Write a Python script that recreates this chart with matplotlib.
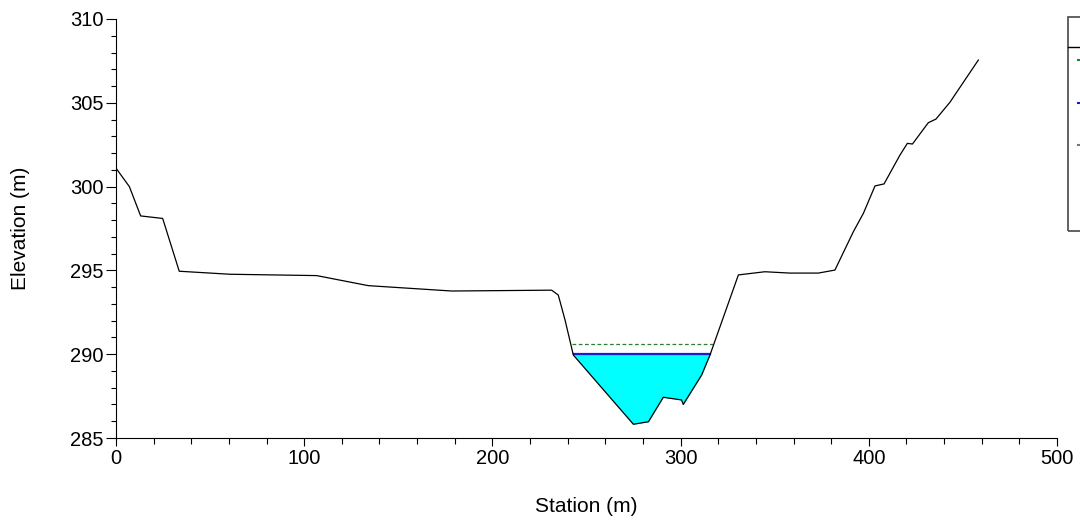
import matplotlib
matplotlib.use('Agg')
import matplotlib.pyplot as plt
from matplotlib.lines import Line2D
from matplotlib.patches import Rectangle
from matplotlib.ticker import MultipleLocator

plt.rcParams['font.family'] = ['Liberation Sans', 'DejaVu Sans']

# ground profile (station, elevation)
station = [0, 7.1, 13.1, 24.8, 33.6, 60.6, 106.6, 134.1, 178.4, 231.5, 235.0,
           238.6, 243.0, 274.9, 282.9, 290.8, 300.5, 301.4, 311.2, 315.6,
           330.7, 344.8, 358.1, 373.2, 382.0, 391.8, 397.1, 403.3, 408.1,
           416.6, 420.5, 423.2, 431.6, 435.7, 443.1, 458.2]
elevation = [301.1, 300.0, 298.25, 298.1, 294.95, 294.77, 294.69, 294.09, 293.77,
             293.82, 293.53, 292.04, 289.95, 285.82, 285.97, 287.43, 287.27,
             287.0, 288.76, 289.95, 294.73, 294.92, 294.84, 294.84, 295.02,
             297.31, 298.4, 300.04, 300.16, 301.89, 302.58, 302.54, 303.81,
             304.03, 305.03, 307.55]

ws_elev = 290.02
eg_elev = 290.6
ws_left, ws_right = 243.2, 315.4
eg_left, eg_right = 242.4, 317.4


def main():
    fig = plt.figure(figsize=(10.8, 5.23), dpi=100)
    ax = fig.add_axes([116 / 1080, 1 - 438 / 523, 941 / 1080, 419 / 523])

    # water fill below water surface
    ax.fill_between(station, elevation, ws_elev,
                    where=[ws_left - 1 <= s <= ws_right + 1 for s in station],
                    interpolate=True, color='#00ffff', linewidth=0, zorder=1)
    ax.plot([eg_left, eg_right], [eg_elev, eg_elev], color='#2e7d32',
            linestyle=(0, (3, 2)), linewidth=0.9, zorder=2)
    ax.plot([ws_left, ws_right], [ws_elev, ws_elev], color='#1a1adb',
            linewidth=1.6, zorder=3)
    ax.plot(station, elevation, color='black', linewidth=0.9, zorder=4)

    ax.set_xlim(0, 500)
    ax.set_ylim(285, 310)
    ax.xaxis.set_major_locator(MultipleLocator(100))
    ax.xaxis.set_minor_locator(MultipleLocator(20))
    ax.yaxis.set_major_locator(MultipleLocator(5))
    ax.yaxis.set_minor_locator(MultipleLocator(1))
    ax.spines['top'].set_visible(False)
    ax.spines['right'].set_visible(False)
    for sp in ('left', 'bottom'):
        ax.spines[sp].set_linewidth(0.8)
    ax.tick_params(axis='both', which='both', direction='out', width=0.8,
                   labelsize=14.5, colors='black', pad=2)
    ax.tick_params(axis='y', which='major', length=7)
    ax.tick_params(axis='y', which='minor', length=3.6)
    ax.tick_params(axis='x', which='major', length=6)
    ax.tick_params(axis='x', which='minor', length=4.3)
    ax.set_xlabel('Station (m)', fontsize=15, va='center')
    ax.set_ylabel('Elevation (m)', fontsize=15, va='center')
    ax.xaxis.set_label_coords(0.5, (438 - 507) / 419)
    ax.yaxis.set_label_coords((21 - 116) / 941, 0.5)

    # legend box, mostly cut off at the right edge
    fig.patches.append(Rectangle((1068 / 1080, 1 - 231 / 523), 0.1, 214 / 523,
                                 transform=fig.transFigure, fill=False,
                                 edgecolor='#555555', linewidth=1.3))
    fig.lines.append(Line2D([1068 / 1080, 1], [1 - 47 / 523] * 2,
                            transform=fig.transFigure, color='black', linewidth=1))
    for yy, c in [(60, '#2e7d32'), (103, '#1a1adb'), (145, '#777777')]:
        fig.lines.append(Line2D([1078 / 1080, 1.01], [1 - yy / 523] * 2,
                                transform=fig.transFigure, color=c, linewidth=1.5))

    fig.savefig('out.png', dpi=100)


if __name__ == '__main__':
    main()
